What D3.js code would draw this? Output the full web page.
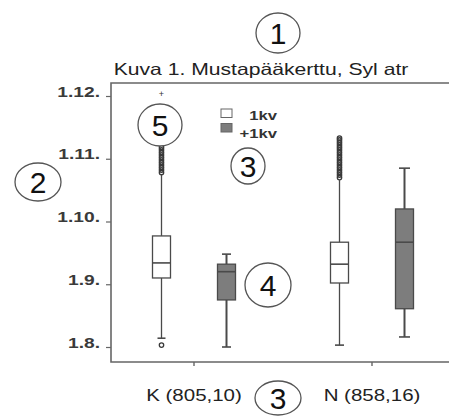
<!DOCTYPE html>
<html>
<head>
<meta charset="utf-8">
<script src="https://cdn.jsdelivr.net/npm/d3@7"></script>
<style>
  body { margin: 0; background: #fff; }
  svg { display: block; font-family: "Liberation Sans", Arial, sans-serif; }
</style>
</head>
<body>
<div id="chart"></div>
<script>
// ryhmät ja sarjat
const categories = ["K (805,10)", "N (858,16)"];
const series = ["1kv", "+1kv"];

// laatikkokuvion tunnusluvut, [K, N]
const low1kv = [1.0814, 1.0803];
const q1_1kv = [1.0910, 1.0902];
const med1kv = [1.0934, 1.0932];
const q3_1kv = [1.0977, 1.0967];
const high1kv = [1.1074, 1.1066];

const lowPlus = [1.0800, 1.0816];
const q1Plus = [1.0875, 1.0861];
const medPlus = [1.0920, 1.0967];
const q3Plus = [1.0932, 1.1020];
const highPlus = [1.0948, 1.1085];

// poikkeavat havainnot (1kv)
const outK = [1.0803, 1.1078, 1.1082, 1.1086, 1.1090, 1.1094, 1.1098, 1.1102, 1.1106, 1.1110, 1.1114, 1.1118];
const extremeK = [1.1203];
const outN = [1.1070, 1.1074, 1.1078, 1.1082, 1.1086, 1.1090, 1.1094, 1.1098, 1.1102, 1.1106, 1.1110, 1.1114, 1.1118, 1.1122, 1.1126, 1.1130, 1.1133];

const yTicks = [1.08, 1.09, 1.10, 1.11, 1.12];
const yTickLabels = ["1.8.", "1.9.", "1.10.", "1.11.", "1.12."];

const title = "Kuva 1. Mustapääkerttu, Syl atr";

const W = 449, H = 417;
const svg = d3.select("#chart").append("svg").attr("width", W).attr("height", H);

const y = d3.scaleLinear().domain([1.08, 1.12]).range([347, 96]);
const x = d3.scaleBand().domain(categories).range([105, 461]);
const sub = d3.scaleBand().domain(series).range([-65, 65]);
const boxW = 18;

const plotLeft = 111, plotTop = 83, plotBottom = 362;
const axisCol = "#666";
const font = "Liberation Sans, Arial, sans-serif";

// kuva on venytetty vaakasuunnassa, joten tekstit levennetään
const stretch = 1.28;
function widen(sel) {
  sel.each(function () {
    const w = this.getComputedTextLength();
    d3.select(this).attr("textLength", w * stretch).attr("lengthAdjust", "spacingAndGlyphs");
  });
}

// kehys
svg.append("path")
  .attr("d", `M${W},${plotTop}H${plotLeft}V${plotBottom}H${W}`)
  .attr("fill", "none").attr("stroke", axisCol).attr("stroke-width", 1.6);

// y-akseli
const yAxis = svg.append("g").attr("transform", `translate(${plotLeft},0)`)
  .call(d3.axisLeft(y).tickValues(yTicks).tickSize(5).tickFormat((d, i) => yTickLabels[i]));
yAxis.select(".domain").remove();
yAxis.selectAll("line").attr("stroke", axisCol).attr("stroke-width", 1.2);
yAxis.selectAll("text").attr("x", -11).attr("dy", "0")
  .attr("font-size", 15).attr("font-weight", "bold").attr("fill", "#3a3a3a")
  .attr("font-family", font).call(widen);

// x-akseli
const xAxis = svg.append("g").attr("transform", `translate(0,${plotBottom})`)
  .call(d3.axisBottom(x).tickSize(4).tickPadding(24));
xAxis.select(".domain").remove();
xAxis.selectAll("line").attr("stroke", axisCol).attr("stroke-width", 1.4);
xAxis.selectAll("text").attr("font-size", 16).attr("fill", "#222")
  .attr("font-family", font).call(widen);

// otsikko
svg.append("text").attr("x", 261).attr("y", 75).attr("text-anchor", "middle")
  .attr("font-size", 16.5).attr("fill", "#222").text(title).call(widen);

function drawBox(s, lo, q1, med, q3, hi, fill, lw, capW) {
  categories.forEach((c, i) => {
    const cx = x(c) + x.bandwidth() / 2 + sub(s) + sub.bandwidth() / 2;
    const g = svg.append("g").attr("stroke", "#4a4a4a");
    g.append("line").attr("x1", cx).attr("x2", cx).attr("y1", y(lo[i])).attr("y2", y(q1[i])).attr("stroke-width", lw);
    g.append("line").attr("x1", cx).attr("x2", cx).attr("y1", y(q3[i])).attr("y2", y(hi[i])).attr("stroke-width", lw);
    g.append("line").attr("x1", cx - capW[i] / 2).attr("x2", cx + capW[i] / 2).attr("y1", y(lo[i])).attr("y2", y(lo[i])).attr("stroke-width", 1.6);
    if (s !== "1kv") {
      g.append("line").attr("x1", cx - capW[i] / 2).attr("x2", cx + capW[i] / 2).attr("y1", y(hi[i])).attr("y2", y(hi[i])).attr("stroke-width", 1.6);
    }
    g.append("rect").attr("x", cx - boxW / 2).attr("width", boxW)
      .attr("y", y(q3[i])).attr("height", y(q1[i]) - y(q3[i]))
      .attr("fill", fill).attr("stroke-width", 1.3);
    g.append("line").attr("x1", cx - boxW / 2).attr("x2", cx + boxW / 2).attr("y1", y(med[i])).attr("y2", y(med[i])).attr("stroke-width", 1.6);
  });
}
drawBox("1kv", low1kv, q1_1kv, med1kv, q3_1kv, high1kv, "#fff", 1.3, [8, 9]);
drawBox("+1kv", lowPlus, q1Plus, medPlus, q3Plus, highPlus, "#7d7d7d", 2, [9, 11]);

// poikkeavat
function outliers(vals, ci) {
  const cx = x(categories[ci]) + x.bandwidth() / 2 + sub("1kv") + sub.bandwidth() / 2;
  svg.append("g").selectAll("circle").data(vals).join("circle")
    .attr("cx", cx).attr("cy", d => y(d)).attr("r", 2.2)
    .attr("fill", "none").attr("stroke", "#3a3a3a").attr("stroke-width", 1.3);
}
outliers(outK, 0);
outliers(outN, 1);
const cxK = x(categories[0]) + x.bandwidth() / 2 + sub("1kv") + sub.bandwidth() / 2;
svg.append("text").attr("x", cxK).attr("y", y(extremeK[0]) + 3).attr("text-anchor", "middle")
  .attr("font-size", 9).attr("fill", "#333").text("+");

// selite
const leg = svg.append("g");
series.forEach((s, i) => {
  leg.append("rect").attr("x", 221).attr("y", 109 + i * 14.5).attr("width", 11).attr("height", 8.5)
    .attr("fill", i === 0 ? "#fff" : "#7d7d7d").attr("stroke", "#666").attr("stroke-width", 1);
  leg.append("text").attr("x", 277).attr("y", 119.5 + i * 18.5).attr("text-anchor", "end")
    .attr("font-size", 13).attr("font-weight", "bold").attr("fill", "#333").text(s).call(widen);
});

// numeroidut ympyrät
const marks = [
  { n: "1", cx: 278, cy: 33, rx: 22, ry: 20 },
  { n: "2", cx: 38, cy: 182, rx: 23, ry: 19 },
  { n: "3", cx: 248, cy: 166, rx: 17, ry: 18 },
  { n: "4", cx: 268, cy: 285, rx: 23, ry: 22 },
  { n: "5", cx: 160, cy: 125, rx: 22, ry: 21 },
  { n: "3", cx: 278, cy: 398, rx: 23, ry: 17 }
];
const mg = svg.append("g");
marks.forEach(m => {
  mg.append("ellipse").attr("cx", m.cx).attr("cy", m.cy).attr("rx", m.rx).attr("ry", m.ry)
    .attr("fill", "#fff").attr("stroke", "#555").attr("stroke-width", 1.3);
  mg.append("text").attr("x", m.cx).attr("y", m.cy + 11).attr("text-anchor", "middle")
    .attr("font-size", 30).attr("fill", "#111").text(m.n);
});
</script>
</body>
</html>
